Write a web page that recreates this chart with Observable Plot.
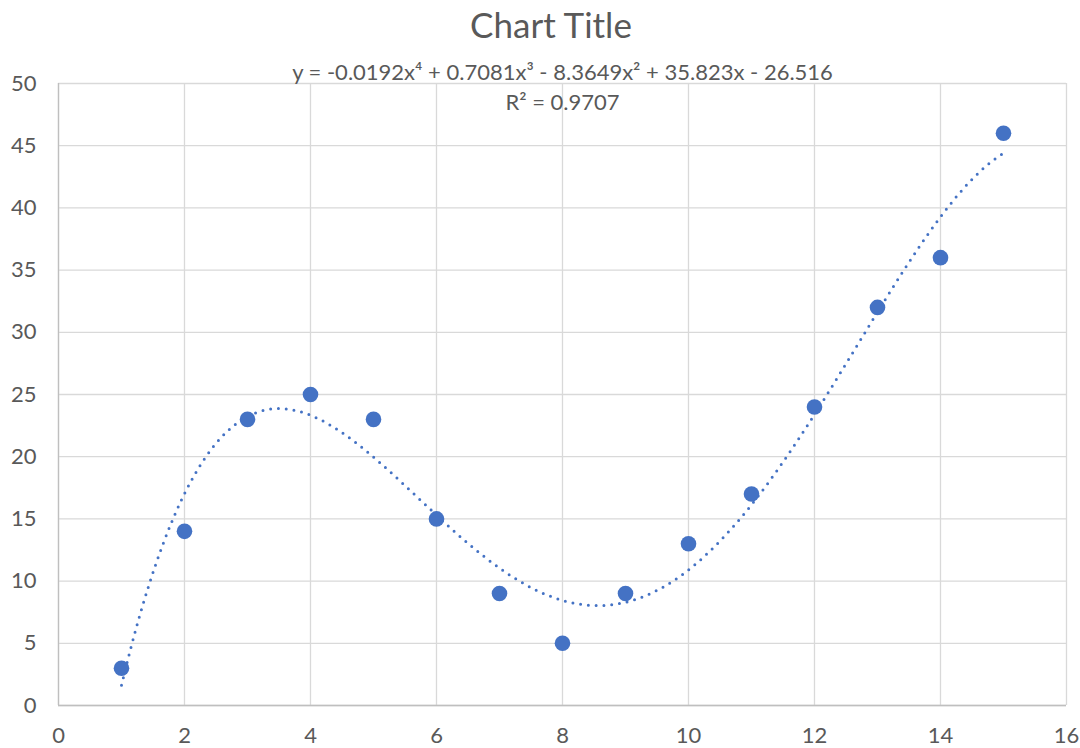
<!DOCTYPE html>
<html>
<head>
<meta charset="utf-8">
<script src="https://cdn.jsdelivr.net/npm/d3@7"></script>
<script src="https://cdn.jsdelivr.net/npm/@observablehq/plot@0.6"></script>
<style>
  html, body { margin: 0; padding: 0; background: #fff; }
  #chart { width: 1080px; height: 748px; position: relative; font-family: Lato, "Open Sans", sans-serif; }
  #title { height: 48px; line-height: 48px; text-align: center; font-size: 35px; color: #595959; padding-left: 22px; }
</style>
</head>
<body>
<div id="chart">
  <div id="title">Chart Title</div>
</div>
<script>
// Observations
const xs = [1, 2, 3, 4, 5, 6, 7, 8, 9, 10, 11, 12, 13, 14, 15];
const ys = [3, 14, 23, 25, 23, 15, 9, 5, 9, 13, 17, 24, 32, 36, 46];

// Trendline: order-4 polynomial; the label shows its rounded coefficients
const trendOrder = 4;
const equationLabel = "y = -0.0192x⁴ + 0.7081x³ - 8.3649x² + 35.823x - 26.516";
const rSquaredLabel = "R² = 0.9707";

// Axis ticks
const xTicks = [0, 2, 4, 6, 8, 10, 12, 14, 16];
const yTicks = [0, 5, 10, 15, 20, 25, 30, 35, 40, 45, 50];

const points = xs.map((x, i) => ({x, y: ys[i]}));

// Least-squares polynomial fit (normal equations + Gaussian elimination)
function polyFit(X, Y, order) {
  const n = order + 1;
  const A = Array.from({length: n}, () => new Array(n + 1).fill(0));
  for (let k = 0; k < X.length; k++) {
    for (let i = 0; i < n; i++) {
      for (let j = 0; j < n; j++) A[i][j] += Math.pow(X[k], i + j);
      A[i][n] += Y[k] * Math.pow(X[k], i);
    }
  }
  for (let c = 0; c < n; c++) {
    let p = c;
    for (let r = c + 1; r < n; r++) if (Math.abs(A[r][c]) > Math.abs(A[p][c])) p = r;
    [A[c], A[p]] = [A[p], A[c]];
    for (let r = 0; r < n; r++) {
      if (r === c) continue;
      const f = A[r][c] / A[c][c];
      for (let j = c; j <= n; j++) A[r][j] -= f * A[c][j];
    }
  }
  return A.map((row, i) => row[n] / row[i]); // lowest power first
}

const beta = polyFit(xs, ys, trendOrder);
const poly = (x) => beta.reduce((acc, b, i) => acc + b * Math.pow(x, i), 0);
const trend = d3.range(xs[0], xs[xs.length - 1] + 1e-9, 0.05).map((x) => ({x, y: poly(x)}));

const blue = "#4472C4";
const grid = "#D9D9D9";
const textGray = "#595959";

const chart = Plot.plot({
  width: 1080,
  height: 700,
  marginLeft: 58,
  marginRight: 14,
  marginTop: 35,
  marginBottom: 43,
  style: {fontFamily: "Lato, 'Open Sans', sans-serif", fontSize: "21px", color: textGray, background: "#fff"},
  x: {domain: [0, 16], label: null},
  y: {domain: [0, 50], label: null},
  marks: [
    Plot.gridX(xTicks, {stroke: grid, strokeOpacity: 1, strokeWidth: 1.3}),
    Plot.gridY(yTicks, {stroke: grid, strokeOpacity: 1, strokeWidth: 1.3}),
    Plot.ruleX([0], {stroke: "#BFBFBF", strokeWidth: 1.3}),
    Plot.ruleY([0], {stroke: "#BFBFBF", strokeWidth: 1.3}),
    Plot.axisX({ticks: xTicks, tickSize: 0, tickPadding: 22, fill: textGray, fontSize: 22}),
    Plot.axisY({ticks: yTicks, tickSize: 0, tickPadding: 22, fill: textGray, fontSize: 22}),
    Plot.line(trend, {x: "x", y: "y", stroke: blue, strokeWidth: 3, strokeDasharray: "0 7.8", strokeLinecap: "round", curve: "linear"}),
    Plot.dot(points, {x: "x", y: "y", r: 7.8, fill: blue, stroke: null}),
    Plot.text([equationLabel], {frameAnchor: "top", lineAnchor: "middle", dy: -11, fill: textGray, fontSize: 22, text: (d) => d}),
    Plot.text([rSquaredLabel], {frameAnchor: "top", lineAnchor: "middle", dy: 19, fill: textGray, fontSize: 22, text: (d) => d})
  ]
});

document.getElementById("chart").appendChild(chart);
</script>
</body>
</html>
